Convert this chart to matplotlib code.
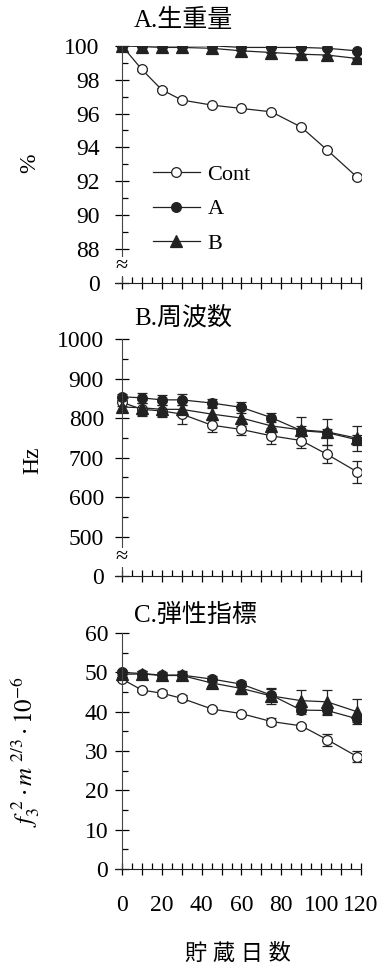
import matplotlib
matplotlib.use("Agg")
import matplotlib.pyplot as plt
from matplotlib.lines import Line2D
from matplotlib.ticker import MultipleLocator

plt.rcParams['font.family'] = ['Liberation Serif', 'Noto Sans CJK JP']
plt.rcParams['mathtext.fontset'] = 'stix'

days = [0, 10, 20, 30, 45, 60, 75, 90, 103, 118]
labels = ["Cont", "A", "B"]

# A. fresh weight (%)
wt_cont = [100.0, 98.6, 97.4, 96.8, 96.5, 96.3, 96.1, 95.2, 93.85, 92.25]
wt_a = [100.0, 100.0, 100.0, 100.0, 100.0, 99.9, 99.9, 99.9, 99.85, 99.7]
wt_b = [100.0, 99.95, 99.9, 99.9, 99.85, 99.7, 99.6, 99.5, 99.45, 99.25]
wt_cont_err = [0.0, 0.08, 0.08, 0.08, 0.05, 0.05, 0.05, 0.08, 0.08, 0.1]
wt_a_err = [0.0, 0.03, 0.03, 0.03, 0.03, 0.03, 0.03, 0.03, 0.03, 0.03]
wt_b_err = [0.0, 0.03, 0.03, 0.03, 0.03, 0.03, 0.03, 0.03, 0.03, 0.03]

# B. frequency (Hz)
hz_cont = [840, 822, 818, 810, 782, 771, 755, 743, 708, 664]
hz_a = [854, 851, 846, 846, 838, 827, 801, 768, 763, 745]
hz_b = [828, 826, 822, 822, 810, 800, 780, 770, 765, 749]
hz_cont_err = [10, 15, 15, 24, 17, 14, 20, 18, 23, 28]
hz_a_err = [8, 12, 12, 14, 10, 14, 12, 12, 10, 12]
hz_b_err = [12, 20, 18, 18, 15, 20, 15, 32, 32, 32]

# C. elasticity index
el_cont = [48.3, 45.5, 44.7, 43.4, 40.7, 39.5, 37.5, 36.4, 32.9, 28.6]
el_a = [50.0, 49.7, 49.3, 49.3, 48.3, 47.0, 44.2, 40.4, 40.3, 38.2]
el_b = [49.5, 49.6, 49.2, 49.2, 47.3, 45.9, 44.0, 42.8, 42.5, 40.0]
el_cont_err = [0.5, 0.6, 0.7, 0.8, 0.6, 0.5, 0.9, 0.5, 1.5, 1.4]
el_a_err = [0.6, 0.6, 0.7, 1.0, 0.7, 0.8, 1.5, 1.0, 1.2, 0.8]
el_b_err = [0.6, 0.7, 0.7, 1.0, 0.8, 1.5, 2.0, 2.8, 3.0, 3.2]

x_ticks = list(range(0, 121, 10))
x_labels = ["0", "", "20", "", "40", "", "60", "", "80", "", "100", "", "120"]

LC = "#222222"
styles = [dict(marker="o", mfc="white", ms=7),
          dict(marker="o", mfc=LC, ms=7),
          dict(marker="^", mfc=LC, ms=8)]


def draw(ax, ys, errs):
    for y, e, st in zip(ys, errs, styles):
        ax.errorbar(days, y, yerr=e, color=LC, lw=0.9, mec=LC, mew=0.9,
                    elinewidth=0.9, capsize=3.5, capthick=0.9, **st)


def style(ax, ylim, yticks, ylabels, minor, pad, show_x):
    ax.set_xlim(-3.5, 120)
    ax.set_ylim(*ylim)
    for s in ["top", "right"]:
        ax.spines[s].set_visible(False)
    ax.spines["left"].set_position(("data", 0))
    ax.spines["left"].set_color("#444444")
    ax.spines["bottom"].set_color("#222222")
    ax.set_xticks(x_ticks)
    ax.xaxis.set_minor_locator(MultipleLocator(5))
    ax.set_yticks(yticks)
    ax.set_yticklabels(ylabels)
    ax.yaxis.set_minor_locator(plt.FixedLocator(minor))
    ax.tick_params(axis="x", which="major", direction="inout", length=9,
                   width=0.9, labelsize=17, pad=14)
    ax.tick_params(axis="x", which="minor", direction="in", length=4,
                   width=0.9)
    ax.tick_params(axis="y", which="major", direction="inout", length=10,
                   width=0.9, labelsize=17, pad=pad)
    ax.tick_params(axis="y", which="minor", direction="in", length=4,
                   width=0.9)
    if show_x:
        ax.set_xticklabels(x_labels)
    else:
        ax.set_xticklabels([])


def axis_break(ax, y):
    # "≈" mark over the y axis where the scale is cut
    ax.text(0, y, "≈", fontsize=16, ha="center", va="center", zorder=5,
            bbox=dict(fc="white", ec="none", pad=0))


fig = plt.figure(figsize=(3.81, 9.67), dpi=100)
left, width = 0.3018, 0.6457
axA = fig.add_axes([left, 0.7073, width, 0.2454])
axB = fig.add_axes([left, 0.4043, width, 0.2451])
axC = fig.add_axes([left, 0.1013, width, 0.2441])

# A
draw(axA, [wt_cont, wt_a, wt_b], [wt_cont_err, wt_a_err, wt_b_err])
style(axA, (86, 100), list(range(86, 101, 2)),
      ["0", "88", "90", "92", "94", "96", "98", "100"],
      [89, 91, 93, 95, 97, 99], 11, False)
axA.text(0.077, 1.108, "A.生重量", transform=axA.transAxes, fontsize=18,
         ha="left", va="center")
axis_break(axA, 87.0)
handles = [Line2D([], [], color=LC, lw=0.9, mec=LC, mew=0.9, **st)
           for st in styles]
axA.legend(handles, labels, loc="upper left", bbox_to_anchor=(0.155, 0.5),
           frameon=False, fontsize=16, handlelength=2.1, handletextpad=0.35,
           labelspacing=0.62, borderpad=0, borderaxespad=0)

# B
draw(axB, [hz_cont, hz_a, hz_b], [hz_cont_err, hz_a_err, hz_b_err])
style(axB, (400, 1000), list(range(400, 1001, 100)),
      ["0", "500", "600", "700", "800", "900", "1000"],
      [550, 650, 750, 850, 950], 8, False)
axB.text(0.077, 1.089, "B.周波数", transform=axB.transAxes, fontsize=18,
         ha="left", va="center")
axis_break(axB, 448)

# C
draw(axC, [el_cont, el_a, el_b], [el_cont_err, el_a_err, el_b_err])
style(axC, (0, 60), list(range(0, 61, 10)),
      [str(v) for v in range(0, 61, 10)],
      list(range(5, 60, 10)), 5, True)
axC.text(0.077, 1.076, "C.弾性指標", transform=axC.transAxes, fontsize=18,
         ha="left", va="center")
axC.set_xlabel("貯 蔵 日 数", fontsize=16, labelpad=20)

fig.text(30 / 381, 1 - 163 / 967, "%", rotation=90, fontsize=17,
         ha="center", va="center")
fig.text(33 / 381, 1 - 460 / 967, "Hz", rotation=90, fontsize=17,
         ha="center", va="center")
fig.text(25 / 381, 1 - 751 / 967,
         r"$f_3^{\ 2}\cdot m^{\ 2/3}\cdot 10^{-6}$", rotation=90,
         fontsize=18, ha="center", va="center")

fig.savefig("out.png", dpi=100)
